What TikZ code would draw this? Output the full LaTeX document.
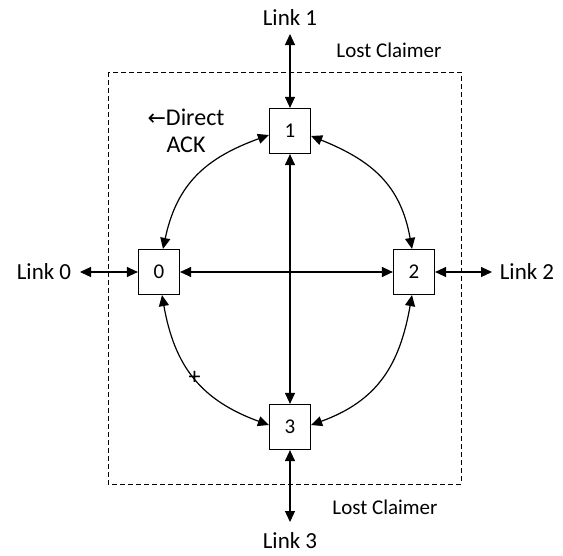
\documentclass[tikz,border=0pt]{standalone}
\usepackage{fontspec}
\setmainfont{Carlito}
\newfontfamily\symfont{DejaVu Sans}
\usetikzlibrary{arrows.meta}
\begin{document}
\begin{tikzpicture}[x=1pt,y=-1pt,
  stn/.style={draw, line width=1.2pt, fill=white, minimum width=41pt, minimum height=45pt, inner sep=0pt, font=\fontsize{21}{24}\selectfont},
  lbl/.style={inner sep=0pt, font=\fontsize{23}{26}\selectfont},
  note/.style={inner sep=0pt, font=\fontsize{21}{24}\selectfont},
  link/.style={line width=1.2pt, {Triangle[length=11pt,width=10pt]}-{Triangle[length=11pt,width=10pt]}},
  border/.style={line width=1pt, dash pattern=on 5pt off 3pt}]
\useasboundingbox (0,0) rectangle (563,555);

% boundary of the ring
\draw[border] (108,72) rectangle (461,484);

% stations
\node[stn] (n1) at (290,131) {1};
\node[stn] (n0) at (159,272) {0};
\node[stn] (n2) at (414,272) {2};
\node[stn] (n3) at (290,427) {3};

% external links
\node[lbl] (l1) at (290,18) {Link 1};
\node[lbl] (l0) at (44,272) {Link 0};
\node[lbl] (l2) at (527,272) {Link 2};
\node[lbl] (l3) at (290,541) {Link 3};
\coordinate (e1) at (290,34);
\coordinate (e0) at (80,272);
\coordinate (e2) at (492,272);
\coordinate (e3) at (290,522);
\draw[link] (e1) -- (n1.north);
\draw[link] (e0) -- (n0.west);
\draw[link] (n2.east) -- (e2);
\draw[link] (n3.south) -- (e3);

% direct links through the middle
\draw[link] (n0.east) -- (n2.west);
\draw[link] (n1.south) -- (n3.north);

% ring links (the 0--3 link carries a break mark)
\draw[link] ([yshift=-4pt]n1.west) to[out=200,in=78,looseness=1.1] ([xshift=4pt]n0.north);
\draw[link] ([yshift=-5pt]n1.east) to[out=-22,in=100,looseness=1.1] ([xshift=-2pt]n2.north);
\draw[link] ([xshift=3pt]n0.south) to[out=-80,in=160,looseness=1.1]
  node[pos=0.5, inner sep=0pt, font=\fontsize{24}{26}\selectfont] (brk) {+} ([yshift=2pt]n3.west);
\draw[link] ([yshift=2pt]n3.east) to[out=20,in=-100,looseness=1.1] ([xshift=-2pt]n2.south);

% annotations
\node[note] (lc1) at (389,50) {Lost Claimer};
\node[note] (lc3) at (385,507) {Lost Claimer};
\node[inner sep=0pt, align=center, font=\fontsize{24}{27}\selectfont] (ack) at (186,131) {{\symfont\fontsize{22}{24}\selectfont ←}Direct\\ACK};
\end{tikzpicture}
\end{document}
